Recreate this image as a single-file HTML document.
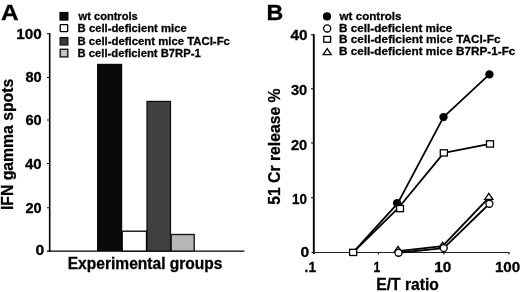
<!DOCTYPE html>
<html><head><meta charset="utf-8">
<style>
html,body{margin:0;padding:0;background:#fff;}
body{width:520px;height:292px;overflow:hidden;}
svg{display:block;will-change:transform;filter:blur(0.6px);}
text{font-family:"Liberation Sans",sans-serif;font-weight:bold;fill:#000;stroke:#000;stroke-width:0.3px;}
</style></head><body>
<svg width="520" height="292" viewBox="0 0 520 292">
<rect width="520" height="292" fill="#fff"/>
<!-- Panel A legend swatches -->
<rect x="59.4" y="11.9" width="9.1" height="8.8" fill="#0a0a0a"/>
<rect x="60.2" y="24.7" width="7.5" height="7" rx="0.8" fill="#fff" stroke="#000" stroke-width="1.3"/>
<rect x="60.2" y="37.6" width="7.6" height="7.3" fill="#3c3c3c" stroke="#0a0a0a" stroke-width="1.3"/>
<rect x="60.2" y="49.3" width="7.6" height="7.6" fill="#c2c2c2" stroke="#1a1a1a" stroke-width="1.4"/>
<!-- Panel A axes -->
<g stroke="#000" fill="none">
<path d="M49.7 33.2 V251.8" stroke-width="1.6"/>
<path d="M47 251.1 H244.4" stroke-width="1.45"/>
<path d="M47 33.75 H50 M47 77.5 H50 M47 120 H50 M47 163.5 H50 M47 207.75 H50" stroke-width="1.2"/>
</g>
<!-- bars -->
<rect x="97" y="63.8" width="25.2" height="187.3" fill="#0a0a0a"/>
<rect x="122.2" y="231.2" width="24.3" height="19.9" fill="#fff" stroke="#000" stroke-width="1.3"/>
<rect x="147" y="101.4" width="23.5" height="149.7" fill="#404040" stroke="#0c0c0c" stroke-width="1.2"/>
<rect x="171.2" y="234.5" width="23" height="16.6" fill="#b6b6b6" stroke="#1a1a1a" stroke-width="1.4"/>
<!-- Panel B legend markers -->
<circle cx="327" cy="16.4" r="4.1" fill="#000"/>
<circle cx="327.2" cy="28.45" r="3.55" fill="#fff" stroke="#000" stroke-width="1.3"/>
<rect x="323.8" y="36.4" width="6.8" height="5.8" fill="#fff" stroke="#000" stroke-width="1.3"/>
<path d="M327.2 48.6 L331.2 54.6 H323.2 Z" fill="#fff" stroke="#000" stroke-width="1.3" stroke-linejoin="miter"/>
<!-- Panel B axes -->
<g stroke="#000" fill="none">
<path d="M313.8 34.2 V254" stroke-width="1.9"/>
<path d="M311.5 252.5 H509.4" stroke="#222" stroke-width="1.1"/>
<path d="M311 34.75 H314 M311 88.75 H314 M311 143 H314 M311 197.75 H314" stroke-width="1.2"/>
<path d="M378.3 252.5 V254.6 M443.9 252.5 V254.6 M509 252.5 V254.4" stroke-width="1.1"/>
</g>
<!-- data lines -->
<g stroke="#000" stroke-width="1.8" fill="none" stroke-linejoin="round">
<polyline points="353.1,252.4 397.7,203.4 443.5,117.1 489.4,74.4"/>
<polyline points="353.1,252.4 399,207.3 443.85,152.9 490,143.9"/>
<polyline points="398,251.2 442.6,246.2 488.9,197.6"/>
<polyline points="398.5,252.75 443.75,248.1 489.4,203.75"/>
</g>
<!-- markers -->
<g fill="#000">
<circle cx="397.1" cy="203.2" r="4.2"/>
<circle cx="443.5" cy="117.1" r="4.2"/>
<circle cx="489.4" cy="74.4" r="4.2"/>
</g>
<g fill="#fff" stroke="#000" stroke-width="1.3">
<path d="M398 246.4 L402 252.4 H394 Z"/>
<path d="M442.6 242.2 L446.6 248.2 H438.6 Z"/>
<path d="M488.8 193.4 L492.9 199.4 H484.7 Z"/>
<circle cx="398.5" cy="252.75" r="3.5"/>
<circle cx="443.75" cy="248.1" r="3.5"/>
<circle cx="489.4" cy="203.75" r="3.5"/>
<rect x="349.6" y="249.3" width="7.1" height="6.2"/>
<rect x="396.6" y="205.5" width="6.9" height="6.2"/>
<rect x="440.3" y="149.8" width="7.1" height="6.2"/>
<rect x="486.5" y="140.8" width="7" height="6.3"/>
</g>
<!-- texts -->
<text font-size="22.3" transform="translate(0.90,19.6) scale(1.0938,1)">A</text>
<text font-size="11.6" transform="translate(78.56,20.1) scale(0.9569,1)">wt controls</text>
<text font-size="11.6" transform="translate(77.60,31.9) scale(0.9737,1)">B cell-deficient mice</text>
<text font-size="11.6" transform="translate(77.50,44.6) scale(0.9793,1)">B cell-deficent mice TACI-Fc</text>
<text font-size="11.6" transform="translate(77.50,56.8) scale(0.9712,1)">B cell-deficient B7RP-1</text>
<text font-size="15.0" transform="translate(16.20,39.0) scale(1.0209,1)">100</text>
<text font-size="15.0" transform="translate(25.50,82.2) scale(0.9729,1)">80</text>
<text font-size="15.0" transform="translate(25.50,124.9) scale(0.9729,1)">60</text>
<text font-size="15.0" transform="translate(25.00,169.4) scale(1.0035,1)">40</text>
<text font-size="15.0" transform="translate(25.50,213.2) scale(0.9729,1)">20</text>
<text font-size="15.0" transform="translate(35.50,255.4) scale(1.0500,1)">0</text>
<text font-size="16.1" transform="translate(67.73,269.0) scale(0.9671,1)">Experimental groups</text>
<text font-size="22.3" transform="translate(266.46,19.5) scale(1.0400,1)">B</text>
<text font-size="11.6" transform="translate(339.60,20.2) scale(1.0002,1)">wt controls</text>
<text font-size="11.6" transform="translate(339.10,31.9) scale(1.0101,1)">B cell-deficient mice</text>
<text font-size="11.6" transform="translate(339.00,43.0) scale(1.0172,1)">B cell-deficient mice TACI-Fc</text>
<text font-size="11.6" transform="translate(339.00,54.9) scale(1.0143,1)">B cell-deficient mice B7RP-1-Fc</text>
<text font-size="15.0" transform="translate(290.40,40.3) scale(1.0219,1)">40</text>
<text font-size="15.0" transform="translate(290.90,94.6) scale(0.9791,1)">30</text>
<text font-size="15.0" transform="translate(290.90,150.1) scale(0.9791,1)">20</text>
<text font-size="15.0" transform="translate(291.90,204.3) scale(0.8995,1)">10</text>
<text font-size="15.0" transform="translate(300.50,257.1) scale(1.0500,1)">0</text>
<text font-size="15.0" transform="translate(304.59,271.8) scale(0.9134,1)">.1</text>
<text font-size="15.0" transform="translate(373.60,271.8) scale(0.8125,1)">1</text>
<text font-size="15.0" transform="translate(434.30,271.9) scale(1.0280,1)">10</text>
<text font-size="15.0" transform="translate(494.90,272.0) scale(1.0128,1)">100</text>
<text font-size="16.1" transform="translate(376.23,290.4) scale(0.9724,1)">E/T ratio</text>
<text font-size="16.1" transform="translate(12.9,210.08) rotate(-90) scale(0.9791,1)">IFN gamma spots</text>
<text font-size="16.1" transform="translate(279.9,204.80) rotate(-90) scale(0.9782,1)">51 Cr release %</text>
</svg>
</body></html>
